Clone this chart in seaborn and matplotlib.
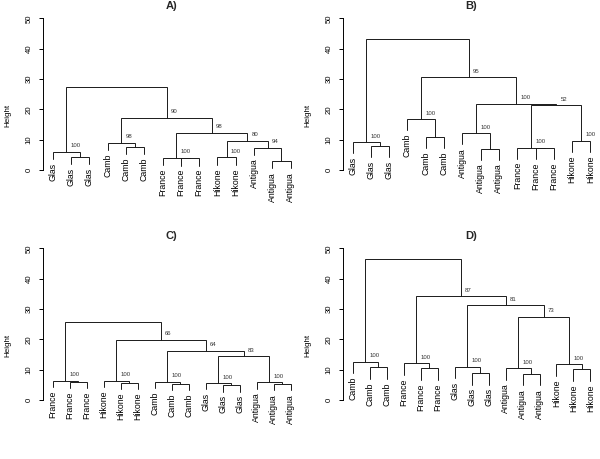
import matplotlib
matplotlib.use("Agg")
import matplotlib.pyplot as plt
import seaborn as sns

# leaf labels in plotted order; merges in R hclust style (-k = leaf k, +k = merge k)
labels_a = ["Glas", "Glas", "Glas", "Camb", "Camb", "Camb", "France", "France", "France",
            "Hikone", "Hikone", "Antigua", "Antigua", "Antigua"]
merge_a = [(-2, -3), (-1, 1), (-5, -6), (-4, 3), (-8, -9), (-7, 5), (-10, -11),
           (-13, -14), (-12, 8), (7, 9), (6, 10), (4, 11), (2, 12)]
height_a = [4.4, 6.0, 7.7, 9.0, 3.9, 4.1, 4.2, 3.0, 7.4, 9.6, 12.3, 17.3, 27.3]
boot_a = [None, 100, None, 98, None, 100, 100, None, 94, 80, 98, 90, None]

labels_b = ["Glas", "Glas", "Glas", "Camb", "Camb", "Camb", "Antigua", "Antigua", "Antigua",
            "France", "France", "France", "Hikone", "Hikone"]
merge_b = [(-2, -3), (-1, 1), (-5, -6), (-4, 3), (-8, -9), (-7, 5), (-11, -12),
           (-10, 7), (-13, -14), (8, 9), (6, 10), (4, 11), (2, 12)]
height_b = [7.9, 9.1, 10.8, 16.7, 6.9, 12.1, 7.2, 7.4, 9.6, 21.3, 21.9, 30.6, 43.3]
boot_b = [None, 100, None, 100, None, 100, None, 100, 100, 52, 100, 95, None]

labels_c = ["France", "France", "France", "Hikone", "Hikone", "Hikone", "Camb", "Camb", "Camb",
            "Glas", "Glas", "Glas", "Antigua", "Antigua", "Antigua"]
merge_c = [(-2, -3), (-1, 1), (-5, -6), (-4, 3), (-8, -9), (-7, 5), (-11, -12),
           (-10, 7), (-14, -15), (-13, 9), (8, 10), (6, 11), (4, 12), (2, 13)]
height_c = [6.0, 6.4, 5.7, 6.4, 5.3, 6.0, 4.8, 5.6, 5.3, 5.8, 14.5, 16.3, 19.8, 25.8]
boot_c = [None, 100, None, 100, None, 100, None, 100, None, 100, 83, 64, 66, None]

labels_d = ["Camb", "Camb", "Camb", "France", "France", "France", "Glas", "Glas", "Glas",
            "Antigua", "Antigua", "Antigua", "Hikone", "Hikone", "Hikone"]
merge_d = [(-2, -3), (-1, 1), (-5, -6), (-4, 3), (-8, -9), (-7, 5), (-11, -12),
           (-10, 7), (-14, -15), (-13, 9), (8, 10), (6, 11), (4, 12), (2, 13)]
height_d = [10.8, 12.6, 10.4, 12.1, 8.8, 11.0, 8.6, 10.5, 10.1, 11.8, 27.4, 31.2, 34.2, 46.4]
boot_d = [None, 100, None, 100, None, 100, None, 100, None, 100, 73, 81, 87, None]

titles = ["A)", "B)", "C)", "D)"]

sns.set_theme(style="white")
plt.rcParams['font.family'] = ['Liberation Sans', 'DejaVu Sans']

LINE = "#1a1a1a"


def draw_dendro(ax, labels, merge, height, boot, title):
    n = len(labels)
    hang = 0.1 * (max(height) - min(height))
    xs = []

    def pos(k, h):
        # leaves hang below their merge, clusters start at their own height
        if k < 0:
            return -k, h - hang
        return xs[k - 1], height[k - 1]

    for i, (a, b) in enumerate(merge):
        h = height[i]
        xa, ya = pos(a, h)
        xb, yb = pos(b, h)
        ax.plot([xa, xa, xb, xb], [ya, h, h, yb], color=LINE, lw=0.7,
                solid_joinstyle="miter")
        xs.append((xa + xb) / 2)
        for k, x0, y0 in ((a, xa, ya), (b, xb, yb)):
            if k < 0:
                ax.annotate(labels[-k - 1], (x0, y0), xytext=(0, -2.5),
                            textcoords="offset points", rotation=90,
                            ha="center", va="top", fontsize=6.3, color="black")
        if boot[i] is not None:
            ax.annotate(str(boot[i]), ((xa + xb) / 2, h), xytext=(3, 2.5),
                        textcoords="offset points", ha="left", va="bottom",
                        fontsize=4.3, color="#333333")

    pad = 0.04 * (n - 1)
    ax.set_xlim(1 - pad, n + pad)
    ax.set_ylim(-2, 52)
    ax.set_xticks([])
    ax.set_yticks([0, 10, 20, 30, 40, 50])
    ax.tick_params(axis="y", left=True, length=3, width=0.7, pad=4.5,
                   labelsize=5.6, labelrotation=90, colors="black")
    for t in ax.get_yticklabels():
        t.set_va("center")
    sns.despine(ax=ax, bottom=True)
    ax.spines["left"].set_bounds(0, 50)
    ax.spines["left"].set_linewidth(0.7)
    ax.spines["left"].set_color("black")
    ax.set_ylabel("Height", fontsize=5.8, color="black")
    ax.yaxis.set_label_coords(-0.125, 0.37)
    ax.set_title(title, fontsize=8, fontweight="bold", pad=2)


fig, axes = plt.subplots(2, 2, figsize=(6, 4.59), dpi=100)
fig.subplots_adjust(left=0.072, right=1.0, top=0.9734, bottom=0.1152,
                    wspace=0.167, hspace=0.403)

panels = [(labels_a, merge_a, height_a, boot_a),
          (labels_b, merge_b, height_b, boot_b),
          (labels_c, merge_c, height_c, boot_c),
          (labels_d, merge_d, height_d, boot_d)]

for ax, (lab, mrg, hgt, bs), ttl in zip(axes.flat, panels, titles):
    draw_dendro(ax, lab, mrg, hgt, bs, ttl)

fig.savefig("out.png", dpi=100)
